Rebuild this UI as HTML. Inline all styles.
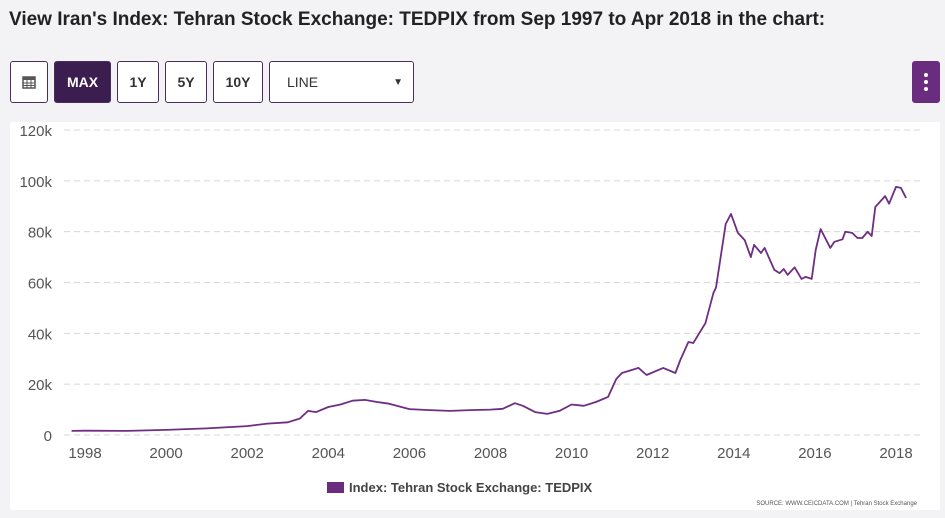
<!DOCTYPE html>
<html><head><meta charset="utf-8"><style>
body{margin:0;width:945px;height:518px;background:#f3f2f4;font-family:"Liberation Sans",sans-serif;overflow:hidden;position:relative}
.title{position:absolute;left:9px;top:9px;font-size:19px;font-weight:bold;color:#222;white-space:nowrap}
.btn{position:absolute;top:61px;height:42px;border:1px solid #4a2d5e;border-radius:3px;background:#fff;box-sizing:border-box;font-size:14px;font-weight:bold;color:#333;display:flex;align-items:center;justify-content:center}
.panel{position:absolute;left:10px;top:122px;width:930px;height:388px;background:#fff}
</style></head><body>
<div class="title">View Iran's Index: Tehran Stock Exchange: TEDPIX from Sep 1997 to Apr 2018 in the chart:</div>
<div class="btn" style="left:10px;width:38px"><svg width="14" height="14" viewBox="0 0 14 14"><rect x="1" y="2" width="12" height="11" fill="none" stroke="#555" stroke-width="1.5"/><rect x="1" y="2" width="12" height="3" fill="#555"/><path d="M1 8h12M1 10.5h12M5 5v8M9 5v8" stroke="#555"/></svg></div>
<div class="btn" style="left:54px;width:57px;background:#3b1d4f;color:#fff">MAX</div>
<div class="btn" style="left:117px;width:42px">1Y</div>
<div class="btn" style="left:165px;width:42px">5Y</div>
<div class="btn" style="left:213px;width:50px">10Y</div>
<div class="btn" style="left:269px;width:145px;justify-content:space-between;padding:0 10px 0 17px;font-weight:normal"><span>LINE</span><span style="font-size:10px">▼</span></div>
<div class="btn" style="left:912px;width:28px;background:#6a2c7e;border-color:#6a2c7e;flex-direction:column;gap:3px"><i style="width:4px;height:4px;background:#fff;border-radius:50%"></i><i style="width:4px;height:4px;background:#fff;border-radius:50%"></i><i style="width:4px;height:4px;background:#fff;border-radius:50%"></i></div>
<div class="panel"></div>
<svg id="chart" width="945" height="518" style="position:absolute;left:0;top:0"></svg>
<script>
const yTicks=[0,20000,40000,60000,80000,100000,120000];
const yTickLabels=["0","20k","40k","60k","80k","100k","120k"];
const xTicks=[1998,2000,2002,2004,2006,2008,2010,2012,2014,2016,2018];
const dates=[1997.67,1998,1999,2000,2001,2002,2002.5,2003,2003.3,2003.5,2003.7,2004,2004.3,2004.6,2004.9,2005.2,2005.5,2006,2006.5,2007,2007.5,2008,2008.3,2008.6,2008.8,2009.1,2009.4,2009.7,2010,2010.3,2010.6,2010.9,2011.1,2011.24,2011.65,2011.85,2012.26,2012.56,2012.68,2012.88,2013.0,2013.3,2013.5,2013.56,2013.8,2013.93,2014.1,2014.27,2014.42,2014.5,2014.67,2014.76,2015.0,2015.13,2015.23,2015.33,2015.5,2015.67,2015.77,2015.92,2016.02,2016.14,2016.38,2016.48,2016.68,2016.75,2016.92,2017.05,2017.17,2017.3,2017.4,2017.49,2017.73,2017.83,2018.0,2018.12,2018.25];
const values=[1600,1700,1600,2000,2600,3500,4500,5000,6500,9500,9000,11000,12000,13500,13800,13000,12300,10200,9800,9500,9800,10000,10300,12500,11500,9000,8300,9500,12000,11500,13000,15000,22000,24400,26400,23600,26400,24400,29500,36600,36200,44000,56000,58000,83000,87000,79500,76700,70000,74800,71600,73600,65000,63700,65300,63000,66000,61400,62200,61400,72800,81000,73600,76000,77000,80000,79500,77500,77500,80000,78300,89700,94000,91000,97600,97200,93300];
const NS="http://www.w3.org/2000/svg",svg=document.getElementById('chart');
const X=yr=>85+(yr-1998)*40.55, Y=v=>435-v/120000*305;
function mk(t,a,txt){const e=document.createElementNS(NS,t);for(const k in a)e.setAttribute(k,a[k]);if(txt!=null)e.textContent=txt;svg.appendChild(e);return e;}
yTicks.forEach((v,i)=>{
 const g=mk('line',{x1:64,x2:920,y1:Y(v),y2:Y(v),stroke:'#d8d8d8','stroke-dasharray':'6,4'});
 
 
 const t=mk('text',{x:52,y:Y(v)+6,'text-anchor':'end','font-size':'15','fill':'#555','font-family':'Liberation Sans,sans-serif'},yTickLabels[i]);
 
 
});
xTicks.forEach(yr=>{
 const t=mk('text',{x:X(yr),y:458,'text-anchor':'middle','font-size':'15','fill':'#555','font-family':'Liberation Sans,sans-serif'},String(yr));
 
 
});
const p=mk('polyline',{points:dates.map((d,i)=>X(d).toFixed(1)+','+Y(values[i]).toFixed(1)).join(' '),fill:'none',stroke:'#6e2e82','stroke-width':'1.8','stroke-linejoin':'round'});


</script>
<div style="position:absolute;left:327px;top:480px;font-size:13px;font-weight:bold;color:#444;display:flex;align-items:center"><span style="width:17px;height:11px;background:#6a2c7e;margin-right:5px;display:inline-block"></span>Index: Tehran Stock Exchange: TEDPIX</div>
<div style="position:absolute;right:28px;top:501px;font-size:6px;color:#555">SOURCE: WWW.CEICDATA.COM | Tehran Stock Exchange</div>
</body></html>
